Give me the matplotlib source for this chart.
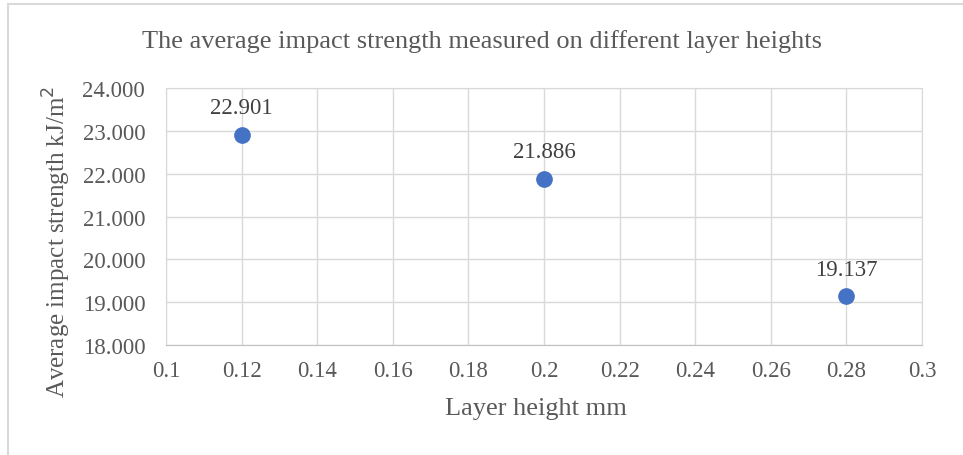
import matplotlib.pyplot as plt
from matplotlib.patches import Rectangle

layer_height = [0.12, 0.2, 0.28]
impact_strength = [22.901, 21.886, 19.137]
labels = ['22.901', '21.886', '19.137']

plt.rcParams['font.family'] = ['Liberation Serif', 'DejaVu Serif']
text_color = '#595959'
grid_color = '#D9D9D9'

fig = plt.figure(figsize=(9.63, 4.56), dpi=100)
fig.patches.append(Rectangle((0.008, -0.01), 1.1, 1.0, transform=fig.transFigure,
                             fill=False, edgecolor='#D9D9D9', linewidth=1.5))
ax = fig.add_axes([0.1724, 0.2412, 0.7850, 0.5636])

ax.scatter(layer_height, impact_strength, s=121, color='#4472C4', zorder=3)
for x, y, t in zip(layer_height, impact_strength, labels):
    ax.annotate(t, (x, y), xytext=(0, 12), textcoords='offset points',
                ha='center', va='bottom', fontsize=16.5, color='#404040')

ax.set_xlim(0.1, 0.3)
ax.set_ylim(18, 24)
ax.set_xticks([0.1 + 0.02 * i for i in range(11)])
ax.set_xticklabels(['0.1', '0.12', '0.14', '0.16', '0.18', '0.2', '0.22', '0.24', '0.26', '0.28', '0.3'])
ax.set_yticks(range(18, 25))
ax.set_yticklabels([f'{v:.3f}' for v in range(18, 25)])
ax.grid(True, color=grid_color, linewidth=1)
ax.set_axisbelow(True)
for s in ax.spines.values():
    s.set_color(grid_color)
ax.spines['bottom'].set_color('#BFBFBF')
ax.tick_params(length=0, labelsize=16.5, colors=text_color)
ax.tick_params(axis='x', pad=11)
ax.tick_params(axis='y', pad=15)

fig.text(0.5565, 1 - 409 / 456, 'Layer height mm', fontsize=19, color=text_color,
         ha='center', va='center')
fig.text(57 / 963, 1 - 242 / 456, 'Average impact strength kJ/m$^2$', fontsize=18,
         color=text_color, ha='center', va='center', rotation=90)
fig.text(0.5, 1 - 42 / 456, 'The average impact strength measured on different layer heights',
         fontsize=19, color=text_color, ha='center', va='center')

fig.savefig('out.png', dpi=100)
